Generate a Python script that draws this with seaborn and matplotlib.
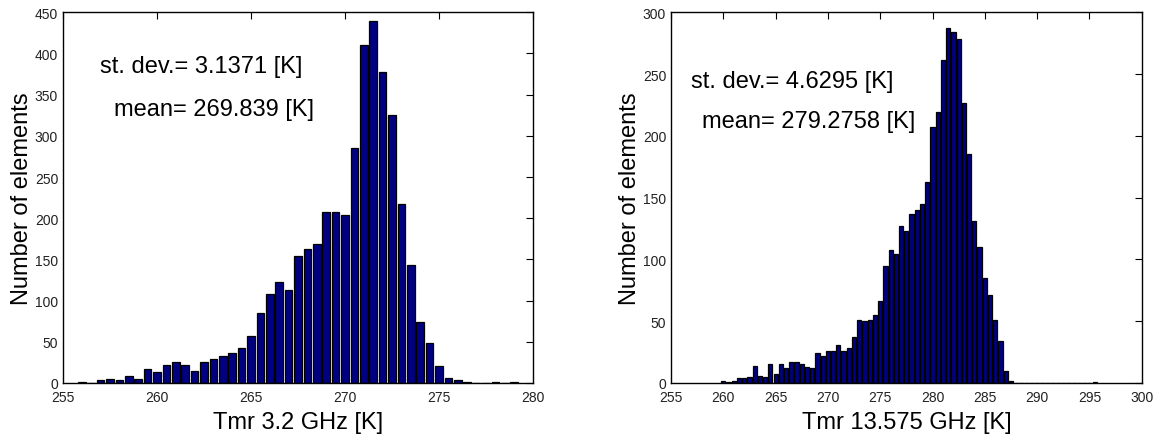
import numpy as np
import pandas as pd
import matplotlib
matplotlib.use("Agg")
import matplotlib.pyplot as plt
import seaborn as sns

# ---------------- data ----------------
bin_width = 0.5

left_first_center = 256.0
left_counts = [1, 0, 4, 5, 4, 8, 5, 17, 13, 22, 26, 22, 14, 26, 29, 33, 37, 43,
               57, 85, 108, 122, 113, 154, 163, 169, 208, 208, 204, 285, 410, 440,
               377, 325, 217, 143, 74, 48, 21, 6, 4, 1, 0, 0, 1, 0, 1]

right_first_center = 260.0
right_counts = [2, 1, 2, 4, 4, 5, 14, 6, 5, 15, 7, 15, 12, 17, 17, 15, 13, 12,
                24, 22, 26, 26, 31, 26, 28, 37, 51, 50, 51, 55, 66, 95, 108, 104,
                127, 123, 137, 140, 145, 163, 207, 219, 261, 287, 284, 278, 227,
                185, 131, 110, 85, 71, 51, 34, 10, 2,
                0, 0, 0, 0, 0, 0, 0, 0, 0, 0, 0, 0, 0, 0, 0, 1]

left_xlabel = "Tmr 3.2 GHz [K]"
right_xlabel = "Tmr 13.575 GHz [K]"
ylabel = "Number of elements"
left_texts = ["st. dev.= 3.1371 [K]", "mean= 269.839 [K]"]
right_texts = ["st. dev.= 4.6295 [K]", "mean= 279.2758 [K]"]

left_xticks = [255, 260, 265, 270, 275, 280]
left_yticks = [0, 50, 100, 150, 200, 250, 300, 350, 400, 450]
right_xticks = [255, 260, 265, 270, 275, 280, 285, 290, 295, 300]
right_yticks = [0, 50, 100, 150, 200, 250, 300]

# ---------------- style ----------------
sns.set_style("white")
plt.rcParams['font.family'] = ['Liberation Sans', 'DejaVu Sans']

fig = plt.figure(figsize=(11.58, 4.39), dpi=100)
ax1 = fig.add_axes([63 / 1158, 55 / 439, 470 / 1158, 370.7 / 439])
ax2 = fig.add_axes([671 / 1158, 55 / 439, 470.7 / 1158, 370.7 / 439])

bar_color = "#000080"


def draw(ax, first_center, counts, xticks, yticks, xlabel, texts, text_pos):
    centers = first_center + bin_width * np.arange(len(counts))
    df = pd.DataFrame({"center": centers, "count": np.asarray(counts, float)})
    edges = list(np.append(centers - bin_width / 2, centers[-1] + bin_width / 2))
    sns.histplot(data=df, x="center", weights="count", bins=edges, shrink=0.8,
                 color=bar_color, edgecolor="black", linewidth=0.9,
                 alpha=1.0, ax=ax)
    ax.set_xlim(xticks[0], xticks[-1])
    ax.set_ylim(yticks[0], yticks[-1])
    ax.set_xticks(xticks)
    ax.set_yticks(yticks)
    ax.tick_params(direction="in", top=True, right=True, length=5,
                   width=0.8, labelsize=10, colors="black", labelcolor="#222222")
    ax.tick_params(axis="x", pad=5)
    ax.tick_params(axis="y", pad=3.5)
    for s in ax.spines.values():
        s.set_visible(True)
        s.set_color("black")
        s.set_linewidth(1.0)
    ax.set_xlabel(xlabel, fontsize=17, labelpad=5, color="black")
    ax.set_ylabel(ylabel, fontsize=17, labelpad=1, color="black")
    for t, (x, y) in zip(texts, text_pos):
        ax.text(x, y, t, fontsize=17, ha="left", va="center", color="black")


draw(ax1, left_first_center, left_counts, left_xticks, left_yticks,
     left_xlabel, left_texts, [(256.97, 385), (257.7, 332.5)])
draw(ax2, right_first_center, right_counts, right_xticks, right_yticks,
     right_xlabel, right_texts, [(256.9, 244.6), (258.0, 212)])

fig.savefig("out.png", dpi=100)
